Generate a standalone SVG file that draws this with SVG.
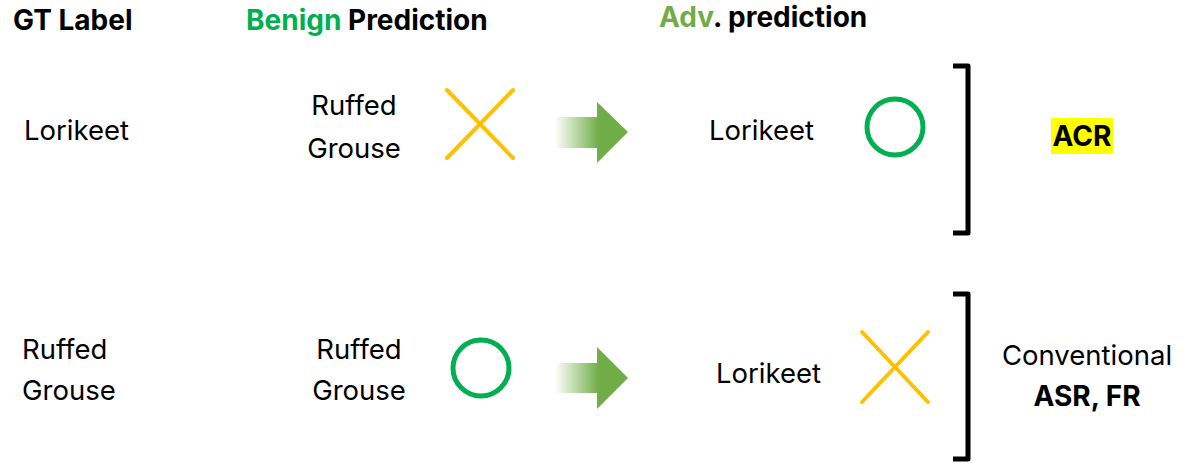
<svg xmlns="http://www.w3.org/2000/svg" width="1203" height="463" viewBox="0 0 1203 463">
<style>
text{font-family:Inter,"Liberation Sans",sans-serif;font-size:27.5px;fill:#000}
.b{font-weight:bold;font-size:28px}
.m{text-anchor:middle}
.x{stroke:#FFC000;stroke-width:4;stroke-linecap:round;fill:none}
.o{stroke:#00B050;stroke-width:5;fill:none}
.br{stroke:#000;stroke-width:5;fill:none;stroke-linejoin:round}
</style>
<defs>
<linearGradient id="g2" x1="0" y1="0" x2="1" y2="0">
<stop offset="0" stop-color="#70AD47" stop-opacity="0"/>
<stop offset="0.6" stop-color="#70AD47"/>
<stop offset="1" stop-color="#70AD47"/>
</linearGradient>
</defs>
<g id="headers">
<text class="b" x="13" y="30">GT Label</text>
<text class="b" x="246" y="30"><tspan fill="#00B050">Benign</tspan> Prediction</text>
<text class="b" x="659" y="27"><tspan fill="#70AD47">Adv</tspan>. prediction</text>
</g>
<g id="row1-gt"><text x="24" y="140">Lorikeet</text></g>
<g id="row1-benign"><text class="m" x="354" y="115">Ruffed</text><text class="m" x="354" y="158">Grouse</text></g>
<g id="row1-benign-mark"><path class="x" d="M447 90L513 158M513 90L447 158"/></g>
<g id="row1-adv"><text x="709" y="140">Lorikeet</text></g>
<g id="row1-adv-mark"><circle class="o" cx="895" cy="127" r="28"/></g>
<g id="row2-gt"><text x="22" y="359">Ruffed</text><text x="22" y="400">Grouse</text></g>
<g id="row2-benign"><text class="m" x="359" y="359">Ruffed</text><text class="m" x="359" y="400">Grouse</text></g>
<g id="row2-benign-mark"><circle class="o" cx="481" cy="368" r="28"/></g>
<g id="row2-adv"><text x="716" y="383">Lorikeet</text></g>
<g id="row2-adv-mark"><path class="x" d="M862 332L928 402M928 332L862 402"/></g>
<g id="acr"><rect x="1051" y="118" width="62" height="36" fill="#FFFF00"/><text class="b m" x="1082" y="146">ACR</text></g>
<g id="conv"><text class="m" x="1087" y="365">Conventional</text><text class="b m" x="1087" y="406">ASR, FR</text></g>
<g id="connectors">
<path fill="url(#g2)" d="M555 117H597V102L628 132L597 163V148H555Z"/>
<path fill="url(#g2)" d="M555 363H597V347L628 378L597 409V393H555Z"/>
<path class="br" d="M953 66H968V233H953"/>
<path class="br" d="M953 294H968V459H953"/>
</g>
</svg>
